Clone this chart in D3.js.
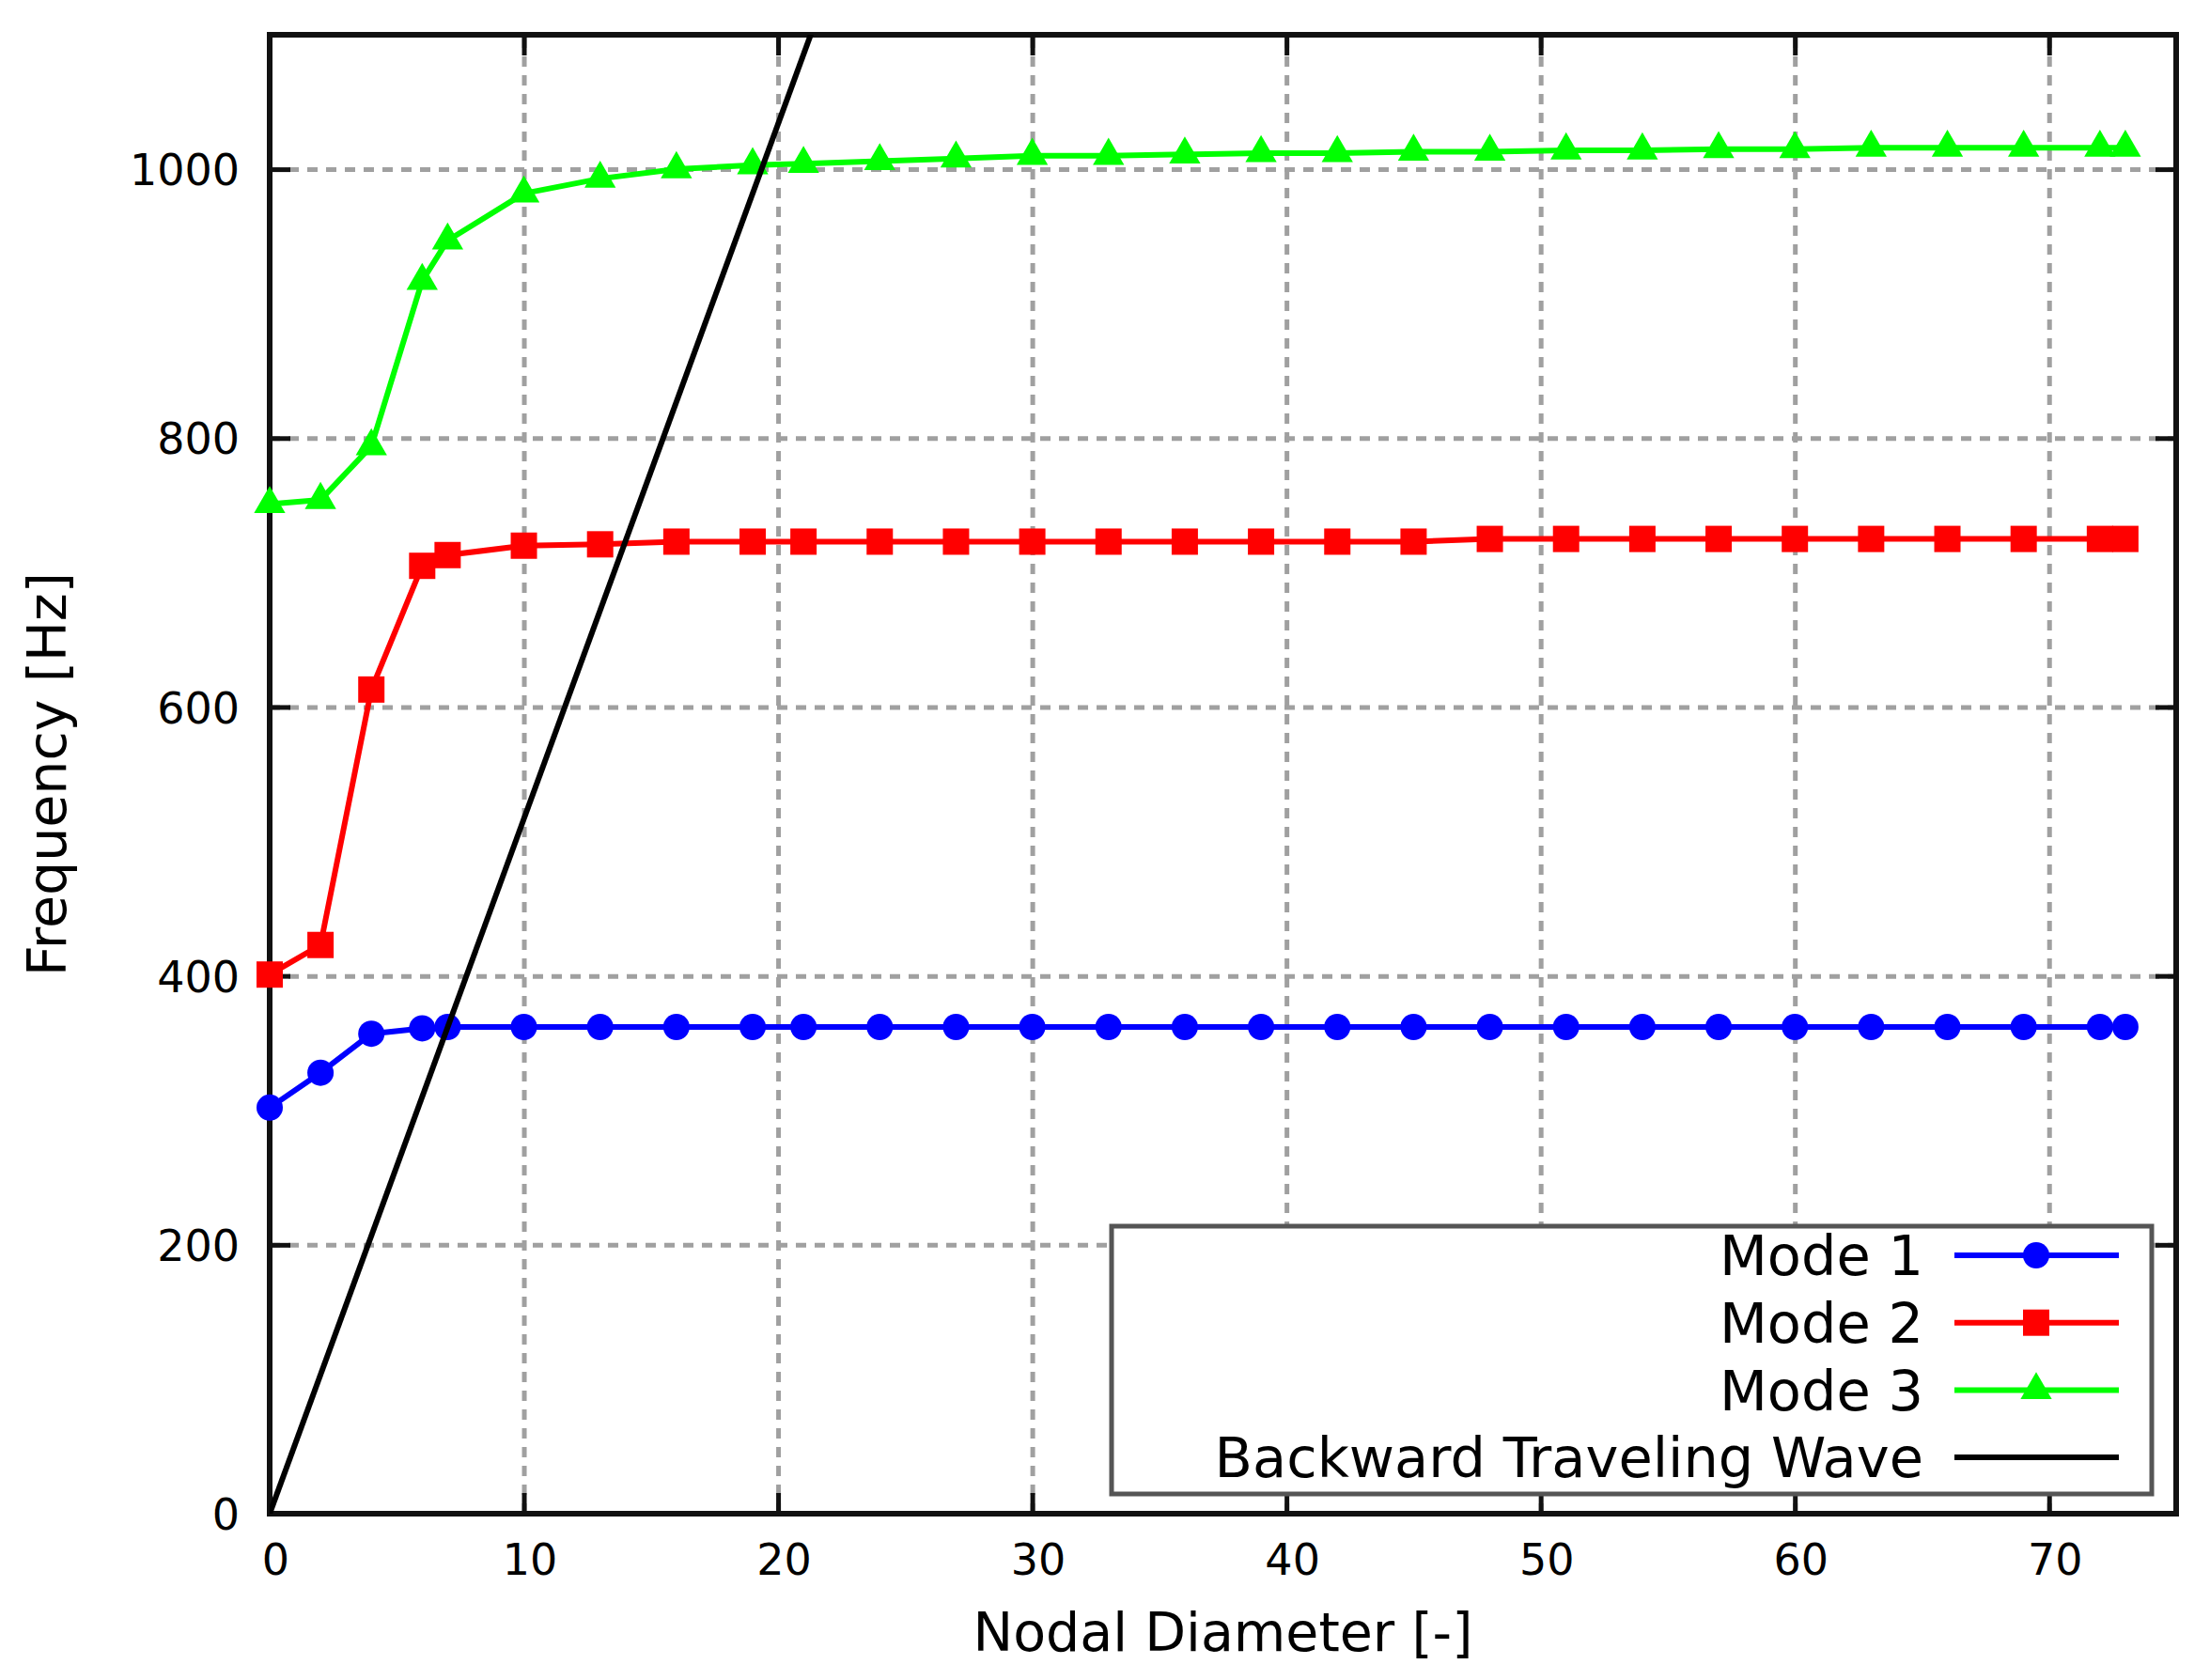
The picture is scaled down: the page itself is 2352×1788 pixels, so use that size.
<!DOCTYPE html>
<html>
<head>
<meta charset="utf-8">
<script src="https://cdn.jsdelivr.net/npm/d3@7"></script>
<style>
  body { margin: 0; background: #fff; }
  text { font-family: "DejaVu Sans", sans-serif; fill: #000; }
</style>
</head>
<body>
<div id="chart"></div>
<script>
// data
var nodalDiameters = [0, 2, 4, 6, 7, 10, 13, 16, 19, 21, 24, 27, 30, 33, 36, 39, 42, 45, 48, 51, 54, 57, 60, 63, 66, 69, 72, 73];
var mode1 = [302, 328, 357, 361, 362, 362, 362, 362, 362, 362, 362, 362, 362, 362, 362, 362, 362, 362, 362, 362, 362, 362, 362, 362, 362, 362, 362, 362];
var mode2 = [401, 423, 613, 705, 713, 720, 721, 723, 723, 723, 723, 723, 723, 723, 723, 723, 723, 723, 725, 725, 725, 725, 725, 725, 725, 725, 725, 725];
var mode3 = [751, 754, 794, 917, 947, 982, 993, 1000, 1003, 1004, 1006, 1008, 1010, 1010, 1011, 1012, 1012, 1013, 1013, 1014, 1014, 1015, 1015, 1016, 1016, 1016, 1016, 1016];
var btwND = [0, 22];
var btwFreq = [0, 1137];
var xTicks = [0, 10, 20, 30, 40, 50, 60, 70];
var yTicks = [0, 200, 400, 600, 800, 1000];
var seriesNames = ["Mode 1", "Mode 2", "Mode 3", "Backward Traveling Wave"];

var W = 2352, H = 1788;
var margin = {top: 37, right: 36, bottom: 177, left: 287},
    width = W - margin.left - margin.right,
    height = H - margin.top - margin.bottom;

var svg = d3.select("#chart").append("svg")
  .attr("width", W)
  .attr("height", H);

var g = svg.append("g")
  .attr("transform", "translate(" + margin.left + "," + margin.top + ")");

var x = d3.scaleLinear().domain([0, 75]).range([0, width]);
var y = d3.scaleLinear().domain([0, 1100]).range([height, 0]);

// grid
var gridX = g.append("g")
  .attr("transform", "translate(0," + height + ")")
  .call(d3.axisBottom(x).tickValues(xTicks).tickSize(-height).tickFormat(""));
var gridY = g.append("g")
  .call(d3.axisLeft(y).tickValues(yTicks).tickSize(-width).tickFormat(""));
[gridX, gridY].forEach(function (a) {
  a.select(".domain").remove();
  a.selectAll("line")
    .attr("stroke", "#a0a0a0")
    .attr("stroke-width", 5)
    .attr("stroke-dasharray", "11,9");
});

// inward ticks on all four sides
var tl = 22;
var fmt = d3.format("d");
var axB = g.append("g").attr("transform", "translate(0," + height + ")")
  .call(d3.axisBottom(x).tickValues(xTicks).tickFormat(fmt).tickSize(-tl).tickPadding(tl + 43));
var axT = g.append("g")
  .call(d3.axisTop(x).tickValues(xTicks).tickSize(-tl).tickFormat(""));
var axL = g.append("g")
  .call(d3.axisLeft(y).tickValues(yTicks).tickFormat(fmt).tickSize(-tl).tickPadding(tl + 10));
var axR = g.append("g").attr("transform", "translate(" + width + ",0)")
  .call(d3.axisRight(y).tickValues(yTicks).tickSize(-tl).tickFormat(""));
[axB, axT, axL, axR].forEach(function (a) {
  a.select(".domain").remove();
  a.selectAll("line").attr("stroke", "#111").attr("stroke-width", 5);
});
axB.selectAll("text")
  .attr("font-size", 46)
  .attr("dx", 6)
  .attr("dy", null)
  .attr("font-family", "DejaVu Sans");
axL.selectAll("text")
  .attr("font-size", 46)
  .attr("dy", "0.36em")
  .attr("font-family", "DejaVu Sans");

// border
g.append("rect")
  .attr("width", width)
  .attr("height", height)
  .attr("fill", "none")
  .attr("stroke", "#111")
  .attr("stroke-width", 6);

g.append("clipPath").attr("id", "clip")
  .append("rect").attr("width", width).attr("height", height);

var line = d3.line()
  .x(function (d) { return x(d[0]); })
  .y(function (d) { return y(d[1]); });

var circle = d3.symbol().type(d3.symbolCircle).size(Math.PI * 14 * 14);
var square = d3.symbol().type(d3.symbolSquare).size(28 * 28);
var triangle = d3.symbol().type(d3.symbolTriangle).size(480);

var series = [
  {name: seriesNames[0], vals: mode1, color: "#0000ff", sym: circle},
  {name: seriesNames[1], vals: mode2, color: "#ff0000", sym: square},
  {name: seriesNames[2], vals: mode3, color: "#00ff00", sym: triangle}
];

series.forEach(function (s) {
  var pts = nodalDiameters.map(function (nd, i) { return [nd, s.vals[i]]; });
  g.append("path")
    .datum(pts)
    .attr("fill", "none")
    .attr("stroke", s.color)
    .attr("stroke-width", 6)
    .attr("stroke-linejoin", "round")
    .attr("d", line);
  g.selectAll(null)
    .data(pts)
    .enter().append("path")
    .attr("transform", function (d) { return "translate(" + x(d[0]) + "," + y(d[1]) + ")"; })
    .attr("fill", s.color)
    .attr("d", s.sym);
});

var btw = btwND.map(function (nd, i) { return [nd, btwFreq[i]]; });
g.append("path")
  .datum(btw)
  .attr("clip-path", "url(#clip)")
  .attr("fill", "none")
  .attr("stroke", "#000")
  .attr("stroke-width", 6)
  .attr("d", line);

// legend
var lg = svg.append("g");
lg.append("rect")
  .attr("x", 1183).attr("y", 1305)
  .attr("width", 1107).attr("height", 285)
  .attr("fill", "#fff")
  .attr("stroke", "#555")
  .attr("stroke-width", 5);

var legendItems = series.concat([{name: seriesNames[3], color: "#000", sym: null}]);
var row = lg.selectAll(".row")
  .data(legendItems)
  .enter().append("g")
  .attr("class", "row")
  .attr("transform", function (d, i) { return "translate(0," + (1336 + i * 71.7) + ")"; });
row.append("text")
  .attr("x", 2047)
  .attr("text-anchor", "end")
  .attr("dy", "0.36em")
  .attr("font-size", 59)
  .text(function (d) { return d.name; });
row.append("line")
  .attr("x1", 2080).attr("x2", 2255)
  .attr("stroke", function (d) { return d.color; })
  .attr("stroke-width", 6);
row.filter(function (d) { return d.sym; }).append("path")
  .attr("transform", "translate(2167,0)")
  .attr("fill", function (d) { return d.color; })
  .attr("d", function (d) { return d.sym(); });

// axis titles
svg.append("text")
  .attr("x", margin.left + width / 2)
  .attr("y", 1757)
  .attr("text-anchor", "middle")
  .attr("font-size", 57)
  .text("Nodal Diameter [-]");
svg.append("text")
  .attr("transform", "translate(70," + (margin.top + height / 2) + ") rotate(-90)")
  .attr("text-anchor", "middle")
  .attr("font-size", 57)
  .text("Frequency [Hz]");
</script>
</body>
</html>
